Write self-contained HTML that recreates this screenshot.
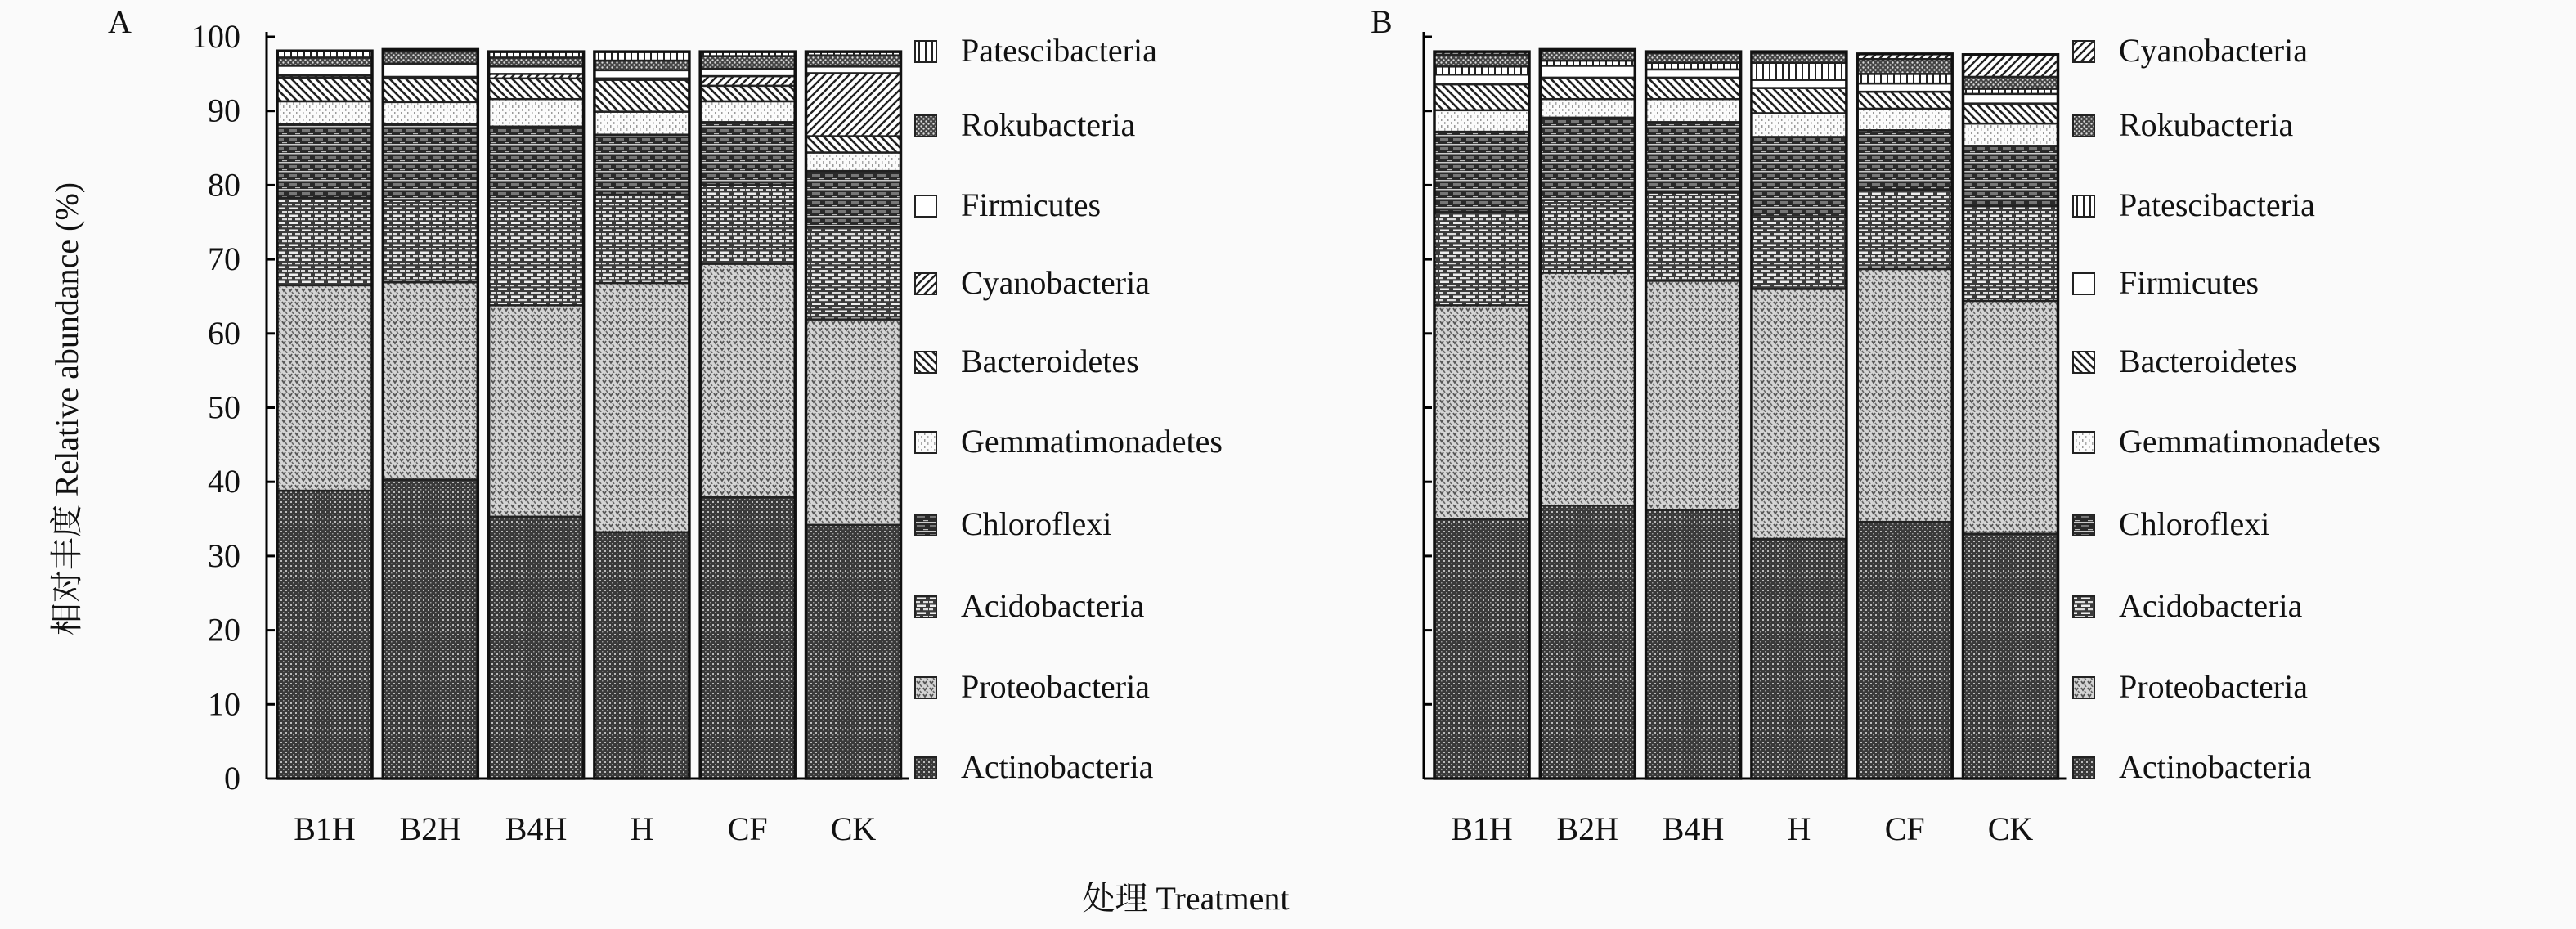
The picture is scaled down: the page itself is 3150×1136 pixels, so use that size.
<!DOCTYPE html>
<html><head><meta charset="utf-8"><style>
html,body{margin:0;padding:0;background:#fafafa;}
svg{display:block;font-family:"Liberation Serif","Noto Serif CJK SC",serif;}
</style></head><body>
<svg id="chart" width="3150" height="1136" viewBox="0 0 3150 1136" xmlns="http://www.w3.org/2000/svg">
<defs>
<pattern id="p-actino" width="6" height="6" patternUnits="userSpaceOnUse"><rect width="6" height="6" fill="#3a3a3a"/><rect x="1" y="1" width="2" height="2" fill="#bbb"/><rect x="4" y="4" width="1.5" height="1.5" fill="#999"/></pattern>
<pattern id="p-proteo" width="8" height="8" patternUnits="userSpaceOnUse"><rect width="8" height="8" fill="#d4d4d4"/><path d="M1 1 L3 4 L5 1" stroke="#555" stroke-width="1.8" fill="none"/><path d="M5 5 L7 8" stroke="#666" stroke-width="1.6"/></pattern>
<pattern id="p-acido" width="16" height="9" patternUnits="userSpaceOnUse"><rect width="16" height="9" fill="#3c3c3c"/><rect x="1" y="1.5" width="11" height="2.5" fill="#eee"/><rect x="9" y="6" width="6" height="2.2" fill="#ddd"/><rect x="0" y="6" width="5" height="2.2" fill="#ddd"/></pattern>
<pattern id="p-chloro" width="16" height="11" patternUnits="userSpaceOnUse"><rect width="16" height="11" fill="#2a2a2a"/><rect x="0" y="0" width="16" height="1.5" fill="#ccc"/><rect x="1" y="4" width="10" height="3" fill="#777"/><rect x="9" y="9" width="6" height="1.2" fill="#bbb"/></pattern>
<pattern id="p-gemma" width="8" height="8" patternUnits="userSpaceOnUse"><rect width="8" height="8" fill="#fbfbfb"/><rect x="2" y="1" width="1.5" height="3" fill="#999"/><rect x="6" y="5" width="1.5" height="3" fill="#aaa"/></pattern>
<pattern id="p-bact" width="10" height="10" patternUnits="userSpaceOnUse"><rect width="10" height="10" fill="#fff"/><path d="M-2 -2 L12 12 M-2 8 L2 12 M8 -2 L12 2" stroke="#222" stroke-width="2.6"/></pattern>
<pattern id="p-cyano" width="10" height="10" patternUnits="userSpaceOnUse"><rect width="10" height="10" fill="#fff"/><path d="M-2 12 L12 -2 M-2 2 L2 -2 M8 12 L12 8" stroke="#222" stroke-width="2.4"/></pattern>
<pattern id="p-firm" width="8" height="8" patternUnits="userSpaceOnUse"><rect width="8" height="8" fill="#fff"/></pattern>
<pattern id="p-roku" width="6" height="6" patternUnits="userSpaceOnUse"><rect width="6" height="6" fill="#444"/><circle cx="1.5" cy="1.5" r="1.2" fill="#ddd"/><circle cx="4.5" cy="4.5" r="1.2" fill="#ddd"/></pattern>
<pattern id="p-pate" width="8" height="8" patternUnits="userSpaceOnUse"><rect width="8" height="8" fill="#fff"/><rect x="3" y="0" width="2" height="8" fill="#222"/></pattern>
</defs>
<g id="panels"></g>
</svg>
<script>
const categories = ["B1H","B2H","B4H","H","CF","CK"];
const ticks = [0,10,20,30,40,50,60,70,80,90,100];
// Panel A, stack order bottom -> top
const seriesA = ["Actinobacteria","Proteobacteria","Acidobacteria","Chloroflexi","Gemmatimonadetes","Bacteroidetes","Cyanobacteria","Firmicutes","Rokubacteria","Patescibacteria"];
const actinoA = [38.8,40.3,35.3,33.2,37.9,34.2];
const proteoA = [27.7,26.6,28.5,33.6,31.5,27.7];
const acidoA  = [11.8,11.1,14.2,11.9,10.6,12.5];
const chloroA = [9.9,10.2,9.9,8.1,8.5,7.5];
const gemmaA  = [3.1,3.0,3.7,3.1,2.8,2.5];
const bactA   = [3.2,3.2,2.8,4.3,2.1,2.2];
const cyanoA  = [0.3,0.2,0.6,0.2,1.3,8.5];
const firmA   = [1.3,1.8,1.0,1.1,1.0,0.9];
const rokuA   = [1.1,1.6,1.2,1.3,1.7,1.5];
const pateA   = [0.9,0.3,0.8,1.2,0.6,0.5];
// Panel B
const seriesB = ["Actinobacteria","Proteobacteria","Acidobacteria","Chloroflexi","Gemmatimonadetes","Bacteroidetes","Firmicutes","Patescibacteria","Rokubacteria","Cyanobacteria"];
const actinoB = [35.0,36.8,36.2,32.3,34.6,33.0];
const proteoB = [28.8,31.4,30.9,33.7,34.1,31.4];
const acidoB  = [12.6,9.8,11.9,9.7,10.7,12.8];
const chloroB = [10.8,11.1,9.5,10.8,8.0,8.1];
const gemmaB  = [2.9,2.5,3.1,3.2,2.9,3.0];
const bactB   = [3.5,2.9,2.9,3.4,2.3,2.7];
const firmB   = [1.3,1.6,1.1,1.1,1.1,1.3];
const pateB   = [1.1,0.7,0.9,2.3,1.3,0.7];
const rokuB   = [1.6,1.3,1.3,1.3,2.0,1.6];
const cyanoB  = [0.4,0.2,0.2,0.2,0.7,3.0];

const valuesA = [actinoA,proteoA,acidoA,chloroA,gemmaA,bactA,cyanoA,firmA,rokuA,pateA];
const valuesB = [actinoB,proteoB,acidoB,chloroB,gemmaB,bactB,firmB,pateB,rokuB,cyanoB];
const patMap = {Actinobacteria:"p-actino",Proteobacteria:"p-proteo",Acidobacteria:"p-acido",Chloroflexi:"p-chloro",Gemmatimonadetes:"p-gemma",Bacteroidetes:"p-bact",Cyanobacteria:"p-cyano",Firmicutes:"p-firm",Rokubacteria:"p-roku",Patescibacteria:"p-pate"};

const NS="http://www.w3.org/2000/svg";
const root=document.getElementById('panels');
function mk(tag,attrs,parent){const e=document.createElementNS(NS,tag);for(const k in attrs)e.setAttribute(k,attrs[k]);(parent||root).appendChild(e);return e;}
const y0=952, y100=45;
function yScale(v){return y0-(y0-y100)*v/100;}
function slug(s){return s.toLowerCase();}

function drawPanel(key,axisX,series,values,legendX,letter,letterX){
  const g=mk('g',{});
  
  
  const pitch=129.3, bw=116, firstX=axisX+13;
  const ax=mk('line',{x1:axisX,y1:y100-6,x2:axisX,y2:y0,stroke:'#000','stroke-width':3},g);
  
  
  const bx=mk('line',{x1:axisX,y1:y0,x2:firstX+5*pitch+bw+10,y2:y0,stroke:'#000','stroke-width':3},g);
  
  
  ticks.forEach(t=>{
    const tk=mk('line',{x1:axisX,y1:yScale(t),x2:axisX+10,y2:yScale(t),stroke:'#000','stroke-width':3},g);
    
    
    if(key==='a'){
      const tl=mk('text',{x:axisX-32,y:yScale(t)+13,'text-anchor':'end','font-size':40,fill:'#111'},g);
      tl.textContent=t;
      
      
    }
  });
  categories.forEach((c,i)=>{
    const x=firstX+i*pitch;
    let cum=0;
    series.forEach((s,j)=>{
      const v=values[j][i];
      const yt=yScale(cum+v), yb=yScale(cum);
      const r=mk('rect',{x:x,y:yt,width:bw,height:Math.max(0,yb-yt),fill:'url(#'+patMap[s]+')',stroke:'#222','stroke-width':2.5},g);
      
      
      cum+=v;
    });
    const ol=mk('rect',{x:x,y:yScale(cum),width:bw,height:y0-yScale(cum),fill:'none',stroke:'#111','stroke-width':3.5},g);
    
    
    const xl=mk('text',{x:x+bw/2,y:1027,'text-anchor':'middle','font-size':40,fill:'#111'},g);
    xl.textContent=c;
    
    
  });
  const legY=[62,153,251,346,442,540,641,741,840,938];
  const rev=series.slice().reverse();
  rev.forEach((s,k)=>{
    const lg=mk('g',{},g);
    
    
    mk('rect',{x:legendX,y:legY[k]-12,width:26,height:26,fill:'url(#'+patMap[s]+')',stroke:'#222','stroke-width':2},lg);
    const t=mk('text',{x:legendX+56,y:legY[k]+13,'font-size':40,fill:'#111'},lg);
    t.textContent=s;
  });
  const L=mk('text',{x:letterX,y:40,'font-size':40,fill:'#111'},g);
  L.textContent=letter;
  
  
}
drawPanel('a',326,seriesA,valuesA,1119,'A',132);
drawPanel('b',1741,seriesB,valuesB,2535,'B',1676);

const yt=mk('text',{x:0,y:0,'text-anchor':'middle','font-size':40,fill:'#111',transform:'translate(95,500) rotate(-90)'});
yt.textContent='相对丰度 Relative abundance (%)';


const xt=mk('text',{x:1450,y:1112,'text-anchor':'middle','font-size':40,fill:'#111'});
xt.textContent='处理 Treatment';


</script>
</body></html>
